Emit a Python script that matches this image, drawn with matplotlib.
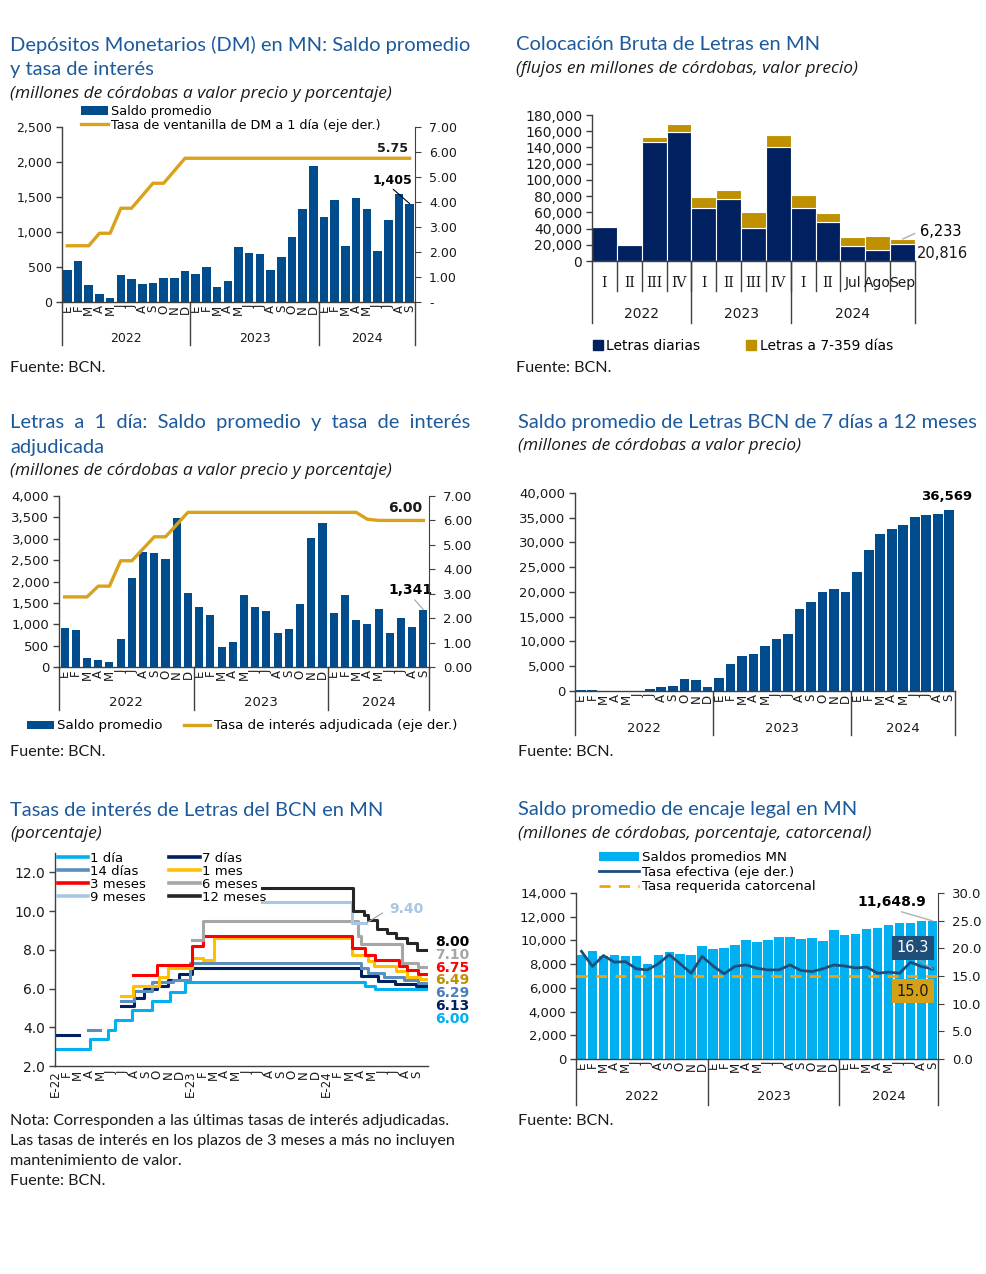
"""
Seis gráficos BCN (depósitos, letras, tasas, encaje) en una sola lámina -> out.png
"""
import numpy as np
import matplotlib
matplotlib.use("Agg")
import matplotlib.pyplot as plt
from matplotlib.lines import Line2D
from matplotlib.patches import Patch
from matplotlib.ticker import FuncFormatter

W, H = 987, 1274
TITLE_C = "#1c5a9c"
TXT_C   = "#1a1a1a"
AX_C    = "#404040"
BLUE    = "#004c8c"
GOLD    = "#daa21c"
TFONT   = "Lato"
SFONT   = "Open Sans"

MONTHS = ["E", "F", "M", "A", "M", "J", "J", "A", "S", "O", "N", "D"]
YEARS  = ["2022", "2023", "2024"]

# ---- 1. Depósitos monetarios (ene-22 .. sep-24) ---------------------------
DM_SALDO = [460, 590, 238, 119, 62, 386, 333, 262, 276, 348, 343, 448,
            395, 505, 214, 300, 790, 700, 690, 452, 643, 928, 1333, 1942,
            1219, 1461, 795, 1490, 1323, 733, 1176, 1538, 1405]
DM_TASA = [2.25, 2.25, 2.25, 2.75, 2.75, 3.75, 3.75, 4.25, 4.75, 4.75, 5.25, 5.75,
           5.75, 5.75, 5.75, 5.75, 5.75, 5.75, 5.75, 5.75, 5.75, 5.75, 5.75, 5.75,
           5.75, 5.75, 5.75, 5.75, 5.75, 5.75, 5.75, 5.75, 5.75]

# ---- 2. Colocación bruta de letras ------------------------------------------
CB_CATS    = ["I", "II", "III", "IV", "I", "II", "III", "IV", "I", "II", "Jul", "Ago", "Sep"]
CB_YEARS   = [("2022", 0, 3), ("2023", 4, 7), ("2024", 8, 12)]
CB_DIARIAS = [42000, 19770, 147000, 158600, 65900, 77000, 41200, 140000,
              65900, 47800, 18950, 13600, 20816]
CB_7359    = [1250, 1230, 5800, 10300, 13600, 10700, 19300, 15300,
              15700, 11900, 10300, 17300, 6233]

# ---- 3. Letras a 1 día ------------------------------------------------------
L1_SALDO = [922, 867, 203, 156, 109, 656, 2086, 2687, 2656, 2516, 3492, 1742,
            1414, 1227, 461, 594, 1695, 1414, 1305, 789, 890, 1469, 3008, 3367,
            1273, 1695, 1109, 1008, 1367, 797, 1141, 937, 1341]
L1_TASA = [2.87, 2.87, 2.87, 3.31, 3.31, 4.35, 4.35, 4.84, 5.33, 5.33, 5.83, 6.33,
           6.33, 6.33, 6.33, 6.33, 6.33, 6.33, 6.33, 6.33, 6.33, 6.33, 6.33, 6.33,
           6.33, 6.33, 6.33, 6.05, 6.00, 6.00, 6.00, 6.00, 6.00]

# ---- 4. Saldo letras 7 días a 12 meses --------------------------------------
LB_SALDO = [250, 120, 60, 40, 60, 20, 473, 878, 1013, 2500, 2297, 878,
            2700, 5400, 7095, 7432, 9054, 10406, 11555, 16487, 17973, 20068, 20608, 19933,
            23987, 28514, 31757, 32770, 33446, 35068, 35473, 35811, 36569]

# ---- 5. Tasas de letras (escalones; x en meses desde ene-22) ----------------
R1D_X  = [0, 3.1, 4.7, 5.3, 6.8, 8.55, 10.2, 11.5, 27.4, 28.3, 33]
R1D_Y  = [2.89, 3.38, 3.87, 4.35, 4.87, 5.35, 5.83, 6.35, 6.15, 6.00, 6.00]
R7D_X  = [0, 2.1, 5.8, 6.95, 7.9, 9.0, 10.0, 11.0, 12.1, 27.1, 28.6, 30.1, 31.9, 33]
R7D_Y  = [3.58, np.nan, 5.09, 5.52, 5.96, 6.12, 6.45, 6.75, 7.06, 6.63, 6.37, 6.25, 6.13, 6.13]
R14D_X = [2.9, 4.0, 5.8, 7.0, 8.6, 10.4, 11.9, 27.1, 27.7, 29.1, 30.9, 32.1, 33]
R14D_Y = [3.85, np.nan, 5.38, 5.86, 6.34, 6.45, 7.33, 7.06, 6.80, 6.60, 6.43, 6.29, 6.29]
R1M_X  = [5.8, 6.9, 9.2, 10.0, 12.1, 13.1, 14.1, 26.3, 27.7, 28.2, 30.2, 31.1, 32.3, 33]
R1M_Y  = [5.64, 6.15, 6.60, 7.05, 7.56, 7.45, 8.60, 7.75, 7.40, 7.15, 6.90, 6.60, 6.49, 6.49]
R3M_X  = [6.87, 9.0, 12.1, 13.1, 26.3, 27.4, 28.3, 30.4, 31.1, 32.15, 33]
R3M_Y  = [6.72, 7.21, 8.21, 8.69, 8.09, 7.75, 7.45, 7.15, 6.95, 6.75, 6.75]
R6M_X  = [12.1, 13.1, 26.8, 27.1, 30.7, 32.15, 33]
R6M_Y  = [8.52, 9.51, 8.69, 8.30, 7.32, 7.10, 7.10]
R9M_X  = [18.3, 26.3, 27.5]
R9M_Y  = [10.46, 9.40, 9.40]
R12M_X = [18.3, 26.4, 27.3, 27.7, 28.5, 29.35, 30.2, 31.1, 32.0, 33]
R12M_Y = [11.18, 10.03, 9.80, 9.55, 9.07, 8.86, 8.60, 8.35, 8.00, 8.00]
RATE_TICKS = ["E-22", "F", "M", "A", "M", "J", "J", "A", "S", "O", "N", "D",
              "E-23", "F", "M", "A", "M", "J", "J", "A", "S", "O", "N", "D",
              "E-24", "F", "M", "A", "M", "J", "J", "A", "S"]
END_LABELS = [("8.00", "#000000"), ("7.10", "#a6a6a6"), ("6.75", "#ff0000"),
              ("6.49", "#bf9000"), ("6.29", "#4a7ebb"), ("6.13", "#002060"),
              ("6.00", "#00b0f0")]

# ---- 6. Encaje legal --------------------------------------------------------
EN_SALDO = [8742, 9080, 8714, 8770, 8686, 8658, 8039, 8798, 9023, 8855, 8770, 9557,
            9305, 9361, 9614, 10064, 9867, 10064, 10260, 10260, 10120, 10204, 9923, 10907,
            10485, 10541, 10963, 11047, 11328, 11469, 11441, 11610, 11648.9]
EN_TASA = [19.46, 16.75, 18.7, 17.5, 17.6, 16.3, 16.1, 17.2, 18.85, 17.2, 15.5, 18.55,
           16.8, 15.4, 16.75, 17.0, 16.4, 16.1, 16.1, 17.0, 16.0, 15.8, 16.3, 17.0,
           16.8, 16.45, 16.6, 15.5, 15.7, 15.5, 17.5, 16.7, 16.3]
EN_REQ = 15.0


def add_axes_px(fig, left, top, right, bottom):
    return fig.add_axes([left / W, 1 - bottom / H, (right - left) / W, (bottom - top) / H])


def ftext(fig, x, y, s, **kw):
    kw.setdefault("va", "center")
    kw.setdefault("ha", "left")
    kw.setdefault("color", TXT_C)
    return fig.text(x / W, 1 - y / H, s, **kw)


def title(fig, x, y, lines, sub):
    for k, ln in enumerate(lines):
        ftext(fig, x, y + 25 * k, ln, family=TFONT, fontsize=14.5, color=TITLE_C)
    ftext(fig, x, y + 25 * len(lines) - 1, sub, family=SFONT, fontsize=12.5, style="italic")


def fuente(fig, x, y, s="Fuente: BCN."):
    ftext(fig, x, y, s, family=TFONT, fontsize=11.6)


def base_style(ax, fs):
    ax.spines["top"].set_visible(False)
    ax.spines["right"].set_visible(False)
    for s in ax.spines.values():
        s.set_color(AX_C)
        s.set_linewidth(1)
    ax.tick_params(axis="y", labelsize=fs, length=4, width=1, color=AX_C,
                   labelcolor=TXT_C, pad=3)
    ax.set_facecolor("none")


def right_axis(ax, lim, ticks, labels, fs):
    a2 = ax.twinx()
    for side in ("top", "left", "bottom"):
        a2.spines[side].set_visible(False)
    a2.spines["right"].set_color(AX_C)
    a2.set_ylim(*lim)
    a2.set_yticks(ticks)
    a2.set_yticklabels(labels)
    a2.tick_params(axis="y", labelsize=fs, length=4, color=AX_C, labelcolor=TXT_C, pad=6)
    return a2


def month_axis(ax, n, sep_frac, year_frac, fs=8.5, yfs=9.5):
    ax.set_xlim(-0.5, n - 0.5)
    ax.set_xticks(range(n))
    ax.set_xticklabels([MONTHS[i % 12] for i in range(n)], rotation=90,
                       fontsize=fs, color=TXT_C)
    ax.tick_params(axis="x", length=0, pad=2)
    tr = ax.get_xaxis_transform()
    for b in [-0.5, 11.5, 23.5, n - 0.5]:
        ax.plot([b, b], [0, sep_frac], transform=tr, color=AX_C, lw=1, clip_on=False)
    for k, yr in enumerate(YEARS):
        lo, hi = 12 * k - 0.5, min(12 * k + 11.5, n - 0.5)
        ax.text((lo + hi) / 2, year_frac, yr, transform=tr, ha="center",
                va="center", fontsize=yfs, color=TXT_C)


thousands = FuncFormatter(lambda v, p: f"{v:,.0f}")

fig = plt.figure(figsize=(W / 100, H / 100), dpi=100)
plt.rcParams["font.family"] = "DejaVu Sans"

# ============================ panel 1 =======================================
title(fig, 10, 45, ["Depósitos Monetarios (DM) en MN: Saldo promedio", "y tasa de interés"],
      "(millones de córdobas a valor precio y porcentaje)")
ax = add_axes_px(fig, 62, 127, 415, 302)
base_style(ax, 9)
x = np.arange(len(DM_SALDO))
ax.bar(x, DM_SALDO, width=0.8, color=BLUE)
ax.set_ylim(0, 2500)
ax.set_yticks(range(0, 2501, 500))
ax.yaxis.set_major_formatter(thousands)
month_axis(ax, len(DM_SALDO), -0.246, -0.206, yfs=9)
ax.annotate(f"{DM_SALDO[-1]:,}", xy=(x[-1], DM_SALDO[-1]), xytext=(392, H - 180),
            textcoords="figure pixels", ha="center", va="center", fontsize=9,
            fontweight="bold", arrowprops=dict(arrowstyle="-", color="black", lw=0.8,
                                               relpos=(0.45, 0), shrinkA=0, shrinkB=0))
a2 = right_axis(ax, (0, 7), range(8), ["-"] + [f"{v:.2f}" for v in range(1, 8)], 9)
a2.plot(x, DM_TASA, color=GOLD, lw=2.4)
ftext(fig, 393, 148, f"{DM_TASA[-1]:.2f}", ha="center", fontsize=9, fontweight="bold")
fig.legend(handles=[Patch(fc=BLUE), Line2D([], [], color=GOLD, lw=2.4)],
           labels=["Saldo promedio", "Tasa de ventanilla de DM a 1 día (eje der.)"],
           loc="upper left", bbox_to_anchor=(81 / W, 1 - 105 / H), frameon=False,
           fontsize=9.2, handlelength=2.1, handleheight=0.6, labelspacing=0.05,
           handletextpad=0.25, borderpad=0, borderaxespad=0)
fuente(fig, 10, 368)

# ============================ panel 2 =======================================
title(fig, 516, 45, ["Colocación Bruta de Letras en MN"],
      "(flujos en millones de córdobas, valor precio)")
ax = add_axes_px(fig, 592, 115, 915, 261)
base_style(ax, 10)
x = np.arange(len(CB_CATS))
ax.bar(x, CB_DIARIAS, width=1.0, color="#002060", edgecolor="white", lw=0.8)
ax.bar(x, CB_7359, bottom=CB_DIARIAS, width=1.0, color="#bf9000", edgecolor="white", lw=0.8)
ax.set_xlim(-0.5, len(CB_CATS) - 0.5)
ax.set_ylim(0, 180000)
ax.set_yticks(range(0, 180001, 20000))
ax.yaxis.set_major_formatter(thousands)
ax.set_xticks([])
tr = ax.get_xaxis_transform()
for i, c in enumerate(CB_CATS):
    fam = "DejaVu Serif" if set(c) <= set("IV") else "DejaVu Sans"
    ax.text(i, -0.15, c, transform=tr, ha="center", va="center", fontsize=10,
            color=TXT_C, family=fam)
    if i < len(CB_CATS) - 1:
        ax.plot([i + 0.5, i + 0.5], [0, -0.205], transform=tr, color=AX_C, lw=1, clip_on=False)
for yr, lo, hi in CB_YEARS:
    ax.plot([lo - 0.5, lo - 0.5], [0, -0.425], transform=tr, color=AX_C, lw=1, clip_on=False)
    ax.text((lo + hi) / 2, -0.363, yr, transform=tr, ha="center", va="center",
            fontsize=10, color=TXT_C)
ax.plot([12.5, 12.5], [0, -0.425], transform=tr, color=AX_C, lw=1, clip_on=False)
sep_total = CB_DIARIAS[-1] + CB_7359[-1]
ax.annotate(f"{CB_7359[-1]:,}", xy=(x[-1], sep_total), xytext=(941, H - 231),
            textcoords="figure pixels", ha="center", va="center", fontsize=10.5,
            arrowprops=dict(arrowstyle="-", color="#b0b0b0", lw=1, relpos=(0, 0.5),
                            shrinkA=2, shrinkB=0))
ftext(fig, 942, 253, f"{CB_DIARIAS[-1]:,}", ha="center", fontsize=10.5)
fig.legend(handles=[Line2D([], [], ls="none", marker="s", ms=7, color="#002060"),
                    Line2D([], [], ls="none", marker="s", ms=7, color="#bf9000")],
           labels=["Letras diarias", "Letras a 7-359 días"], ncol=2,
           loc="center left", bbox_to_anchor=(592 / W, 1 - 346 / H), frameon=False,
           fontsize=10, handlelength=0.8, handletextpad=0.2, columnspacing=3.3,
           borderpad=0, borderaxespad=0)
fuente(fig, 516, 368)

# ============================ panel 3 =======================================
title(fig, 10, 422, ["Letras  a  1  día:  Saldo  promedio  y  tasa  de  interés", "adjudicada"],
      "(millones de córdobas a valor precio y porcentaje)")
ax = add_axes_px(fig, 59, 496, 429, 667)
base_style(ax, 9.5)
x = np.arange(len(L1_SALDO))
ax.bar(x, L1_SALDO, width=0.72, color=BLUE)
ax.set_ylim(0, 4000)
ax.set_yticks(range(0, 4001, 500))
ax.yaxis.set_major_formatter(thousands)
month_axis(ax, len(L1_SALDO), -0.251, -0.21, yfs=9.5)
ax.annotate(f"{L1_SALDO[-1]:,}", xy=(x[-1], L1_SALDO[-1]), xytext=(410, H - 590),
            textcoords="figure pixels", ha="center", va="center", fontsize=10,
            fontweight="bold", arrowprops=dict(arrowstyle="-", color="#a0a0a0", lw=0.8,
                                               relpos=(0.55, 0), shrinkA=0, shrinkB=0))
a2 = right_axis(ax, (0, 7), range(8), [f"{v:.2f}" for v in range(8)], 9.5)
a2.plot(x, L1_TASA, color=GOLD, lw=2.4)
ftext(fig, 405, 508, f"{L1_TASA[-1]:.2f}", ha="center", fontsize=10, fontweight="bold")
fig.legend(handles=[Patch(fc=BLUE), Line2D([], [], color=GOLD, lw=2.4)],
           labels=["Saldo promedio", "Tasa de interés adjudicada (eje der.)"], ncol=2,
           loc="center left", bbox_to_anchor=(27 / W, 1 - 726 / H), frameon=False,
           fontsize=9.6, handlelength=2.0, handleheight=0.6, handletextpad=0.25,
           columnspacing=1.6, borderpad=0, borderaxespad=0)
fuente(fig, 10, 752)

# ============================ panel 4 =======================================
title(fig, 518, 422, ["Saldo promedio de Letras BCN de 7 días a 12 meses"],
      "(millones de córdobas a valor precio)")
ax = add_axes_px(fig, 575, 493, 955, 691)
base_style(ax, 9.5)
x = np.arange(len(LB_SALDO))
ax.bar(x, LB_SALDO, width=0.85, color=BLUE)
ax.set_ylim(0, 40000)
ax.set_yticks(range(0, 40001, 5000))
ax.yaxis.set_major_formatter(thousands)
month_axis(ax, len(LB_SALDO), -0.222, -0.187, yfs=9.5)
ax.annotate(f"{LB_SALDO[-1]:,}", xy=(x[-1], LB_SALDO[-1]), xytext=(-2, 9.5),
            textcoords="offset points", ha="center", va="center", fontsize=9.5,
            fontweight="bold")
fuente(fig, 518, 752)

# ============================ panel 5 =======================================
title(fig, 10, 810, ["Tasas de interés de Letras del BCN en MN"], "(porcentaje)")
ax = add_axes_px(fig, 55, 853, 428, 1066)
base_style(ax, 10)
series = [("1 día", R1D_X, R1D_Y, "#00b0f0"), ("7 días", R7D_X, R7D_Y, "#002060"),
          ("14 días", R14D_X, R14D_Y, "#5b8dbe"), ("1 mes", R1M_X, R1M_Y, "#ffc000"),
          ("3 meses", R3M_X, R3M_Y, "#ff0000"), ("6 meses", R6M_X, R6M_Y, "#a6a6a6"),
          ("9 meses", R9M_X, R9M_Y, "#a9c6e3"), ("12 meses", R12M_X, R12M_Y, "#262626")]
handles = []
for name, xs, ys, col in series:
    ax.step(xs, ys, where="post", color=col, lw=2.2)
    handles.append(Line2D([], [], color=col, lw=2.6, label=name))
# legend reads row by row: reorder for matplotlib's column-first fill
handles = handles[0::2] + handles[1::2]
ax.set_xlim(0, 33)
ax.set_ylim(2, 13)
ax.set_yticks(range(2, 13, 2))
ax.yaxis.set_major_formatter(FuncFormatter(lambda v, p: f"{v:.1f}"))
ax.set_xticks(range(len(RATE_TICKS)))
ax.set_xticklabels(RATE_TICKS, rotation=90, fontsize=8.5, color=TXT_C)
ax.tick_params(axis="x", length=0, pad=3)
ax.legend(handles=handles, ncol=2, loc="upper left", bbox_to_anchor=(0.008, 1.005),
          frameon=False, fontsize=9.5, handlelength=2.3, handletextpad=0.15,
          labelspacing=0.0, columnspacing=1.75, borderpad=0, borderaxespad=0)
ax.annotate(f"{R9M_Y[-1]:.2f}", xy=(27.6, R9M_Y[-1]), xytext=(406, H - 909),
            textcoords="figure pixels", ha="center", va="center", fontsize=10,
            fontweight="bold", color="#a9c6e3",
            arrowprops=dict(arrowstyle="-", color="#a0a0a0", lw=0.8, relpos=(0, 0.5),
                            shrinkA=3, shrinkB=0))
for k, (lab, col) in enumerate(END_LABELS):
    ftext(fig, 435, 942 + 12.8 * k, lab, fontsize=10, fontweight="bold", color=col)
for k, ln in enumerate(["Nota: Corresponden a las últimas tasas de interés adjudicadas.",
                        "Las tasas de interés en los plazos de 3 meses a más no incluyen",
                        "mantenimiento de valor.", "Fuente: BCN."]):
    fuente(fig, 10, 1121 + 20 * k, ln)

# ============================ panel 6 =======================================
title(fig, 518, 810, ["Saldo promedio de encaje legal en MN"],
      "(millones de córdobas, porcentaje, catorcenal)")
ax = add_axes_px(fig, 576, 893, 938, 1059)
base_style(ax, 9.5)
x = np.arange(len(EN_SALDO))
ax.bar(x, EN_SALDO, width=0.86, color="#00b0f0")
ax.set_ylim(0, 14000)
ax.set_yticks(range(0, 14001, 2000))
ax.yaxis.set_major_formatter(thousands)
month_axis(ax, len(EN_SALDO), -0.277, -0.223, yfs=9.5)
ax.annotate(f"{EN_SALDO[-1]:,.1f}", xy=(x[-1], EN_SALDO[-1]),
            xytext=(892, H - 902), textcoords="figure pixels", ha="center", va="center",
            fontsize=10, fontweight="bold",
            arrowprops=dict(arrowstyle="-", color="#b0b0b0", lw=1, relpos=(0.5, 0),
                            shrinkA=0, shrinkB=0))
a2 = right_axis(ax, (0, 30), range(0, 31, 5), [f"{v:.1f}" for v in range(0, 31, 5)], 9.5)
a2.plot(x, EN_TASA, color="#1f4e79", lw=2)
a2.axhline(EN_REQ, color="#f0a30a", lw=2, ls=(0, (4, 3)))
a2.annotate(f"{EN_TASA[-1]:.1f}", xy=(x[-1], EN_TASA[-1]), xytext=(913, H - 948),
            textcoords="figure pixels", ha="center", va="center", fontsize=10.5,
            color="white", bbox=dict(boxstyle="square,pad=0.3", fc="#1f4e79", ec="none"),
            arrowprops=dict(arrowstyle="-", color="#a0a0a0", lw=0.8, shrinkA=0, shrinkB=0,
                            relpos=(0.5, 0)))
ftext(fig, 913, 991, f"{EN_REQ:.1f}", ha="center", fontsize=10.5,
      bbox=dict(boxstyle="square,pad=0.3", fc="#d4a017", ec="none"))
fig.legend(handles=[Patch(fc="#00b0f0"), Line2D([], [], color="#1f4e79", lw=2),
                    Line2D([], [], color="#f0a30a", lw=2, ls=(0, (4, 3)))],
           labels=["Saldos promedios MN", "Tasa efectiva (eje der.)",
                   "Tasa requerida catorcenal"],
           loc="upper left", bbox_to_anchor=(599 / W, 1 - 851 / H), frameon=False,
           fontsize=9.6, handlelength=3.0, handleheight=0.6, labelspacing=0.12,
           handletextpad=0.2, borderpad=0, borderaxespad=0)
fuente(fig, 518, 1121)

fig.savefig("out.png", dpi=100)
